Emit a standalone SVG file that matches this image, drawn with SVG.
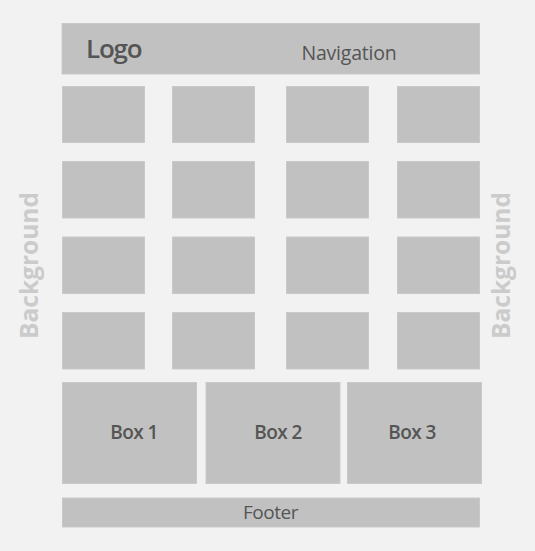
<svg xmlns="http://www.w3.org/2000/svg" width="535" height="551" viewBox="0 0 535 551">
<style>
.bg{fill:#f2f2f2}
.blk{fill:#c1c1c1;stroke:#c9c9c9;stroke-width:1}
.lbl{font-family:"Open Sans","Liberation Sans",sans-serif;fill:#555555}
.b{font-weight:600}
.n{font-weight:400}
.side{font-family:"Open Sans","Liberation Sans",sans-serif;fill:#cbcbcb;font-weight:700;font-size:24.5px;text-anchor:middle}
</style>
<rect class="bg" x="0" y="0" width="535" height="551"/>
<g id="header">
<rect class="blk" x="62" y="23.5" width="417.5" height="50.5"/>
<text class="lbl b" x="86" y="58" font-size="26" letter-spacing="-1.2">Logo</text>
<text class="lbl n" x="349" y="60" font-size="19.5" text-anchor="middle" letter-spacing="-0.2">Navigation</text>
</g>
<g id="grid">
<g id="r1">
<rect class="blk" x="62.5" y="86.5" width="82" height="56"/>
<rect class="blk" x="172.5" y="86.5" width="82" height="56"/>
<rect class="blk" x="286.5" y="86.5" width="82" height="56"/>
<rect class="blk" x="397.5" y="86.5" width="82" height="56"/>
</g>
<g id="r2">
<rect class="blk" x="62.5" y="161.5" width="82" height="56.5"/>
<rect class="blk" x="172.5" y="161.5" width="82" height="56.5"/>
<rect class="blk" x="286.5" y="161.5" width="82" height="56.5"/>
<rect class="blk" x="397.5" y="161.5" width="82" height="56.5"/>
</g>
<g id="r3">
<rect class="blk" x="62.5" y="237" width="82" height="56.5"/>
<rect class="blk" x="172.5" y="237" width="82" height="56.5"/>
<rect class="blk" x="286.5" y="237" width="82" height="56.5"/>
<rect class="blk" x="397.5" y="237" width="82" height="56.5"/>
</g>
<g id="r4">
<rect class="blk" x="62.5" y="312.5" width="82" height="56.5"/>
<rect class="blk" x="172.5" y="312.5" width="82" height="56.5"/>
<rect class="blk" x="286.5" y="312.5" width="82" height="56.5"/>
<rect class="blk" x="397.5" y="312.5" width="82" height="56.5"/>
</g>
</g>
<g id="box1">
<rect class="blk" x="62.5" y="382.5" width="134" height="101"/>
<text class="lbl b" x="134" y="438.5" font-size="19" text-anchor="middle" letter-spacing="-0.6">Box 1</text>
</g>
<g id="box2">
<rect class="blk" x="206" y="382.5" width="134" height="101"/>
<text class="lbl b" x="278" y="438.5" font-size="19" text-anchor="middle" letter-spacing="-0.6">Box 2</text>
</g>
<g id="box3">
<rect class="blk" x="347.5" y="382.5" width="134" height="101"/>
<text class="lbl b" x="412" y="438.5" font-size="19" text-anchor="middle" letter-spacing="-0.6">Box 3</text>
</g>
<g id="footer">
<rect class="blk" x="62.5" y="498" width="417" height="29"/>
<text class="lbl n" x="270.5" y="518.5" font-size="19" text-anchor="middle" letter-spacing="-0.5">Footer</text>
</g>
<g id="bg-left">
<text class="side" transform="translate(37.5,265.5) rotate(-90)">Background</text>
</g>
<g id="bg-right">
<text class="side" transform="translate(509.5,265.5) rotate(-90)">Background</text>
</g>
</svg>
